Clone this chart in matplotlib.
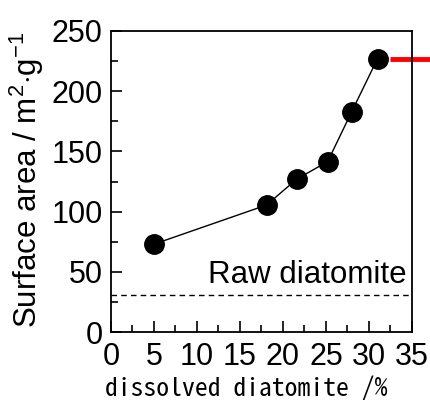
import matplotlib
matplotlib.use('Agg')
import matplotlib.pyplot as plt
from matplotlib.ticker import MultipleLocator

# data
dissolved = [5, 18.1, 21.6, 25.2, 28.0, 31.0]
surface_area = [73, 105.5, 127, 141.5, 183, 227]
raw_diatomite = 31
red_mark_y = 226.5

plt.rcParams['font.family'] = ['Liberation Sans', 'DejaVu Sans']
plt.rcParams['mathtext.fontset'] = 'custom'
plt.rcParams['mathtext.rm'] = 'Liberation Sans'
plt.rcParams['mathtext.it'] = 'Liberation Sans'

fig = plt.figure(figsize=(4.30, 4.07), dpi=100)
ax = fig.add_axes([0.258, 0.184, 0.700, 0.740])

ax.plot(dissolved, surface_area, color='black', lw=1.0, marker='o',
        markersize=14, markerfacecolor='black', markeredgecolor='black')
ax.axhline(raw_diatomite, color='black', lw=1.0, ls=(0, (4, 3)))
ax.text(34.4, 40.5, 'Raw diatomite', ha='right', va='baseline', fontsize=22.5)

# red reference bar outside the frame
ax.plot([32.5, 37.5], [red_mark_y, red_mark_y], color='red', lw=3.5,
        clip_on=False, solid_capstyle='butt')

ax.set_xlim(0, 35)
ax.set_ylim(0, 250)
ax.xaxis.set_major_locator(MultipleLocator(5))
ax.xaxis.set_minor_locator(MultipleLocator(2.5))
ax.yaxis.set_major_locator(MultipleLocator(50))
ax.yaxis.set_minor_locator(MultipleLocator(25))
ax.tick_params(which='both', direction='in', top=False, right=False,
               width=1.2, labelsize=22)
ax.tick_params(which='major', length=8)
ax.tick_params(which='minor', length=5)
ax.tick_params(axis='x', pad=7)
ax.tick_params(axis='y', pad=6)
for s in ax.spines.values():
    s.set_linewidth(1.3)

ax.set_ylabel('Surface area / m$^2$$\\cdot$g$^{-1}$', fontsize=22.5)
ax.set_xlabel('dissolved diatomite /%', fontsize=18.5,
              family=['Noto Sans Mono CJK JP', 'Noto Sans CJK JP', 'DejaVu Sans'])
ax.xaxis.set_label_coords(0.45, -0.148, transform=ax.transAxes)
ax.yaxis.set_label_coords(-0.215, 0.505, transform=ax.transAxes)

fig.savefig('out.png', dpi=100)
